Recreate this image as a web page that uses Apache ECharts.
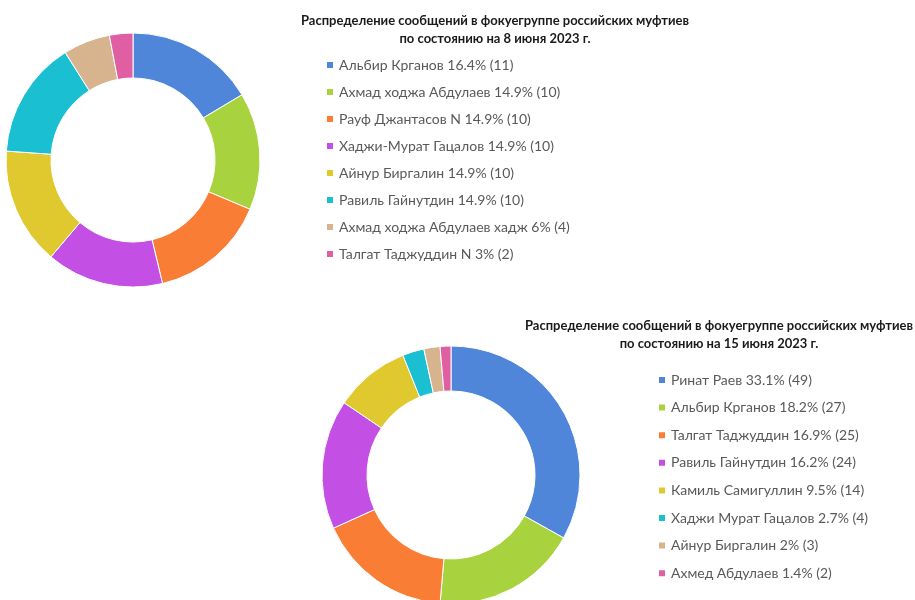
<!DOCTYPE html>
<html><head><meta charset="utf-8">
<script src="https://cdn.jsdelivr.net/npm/echarts@6/dist/echarts.min.js"></script>
<style>
html,body{margin:0;padding:0;background:#fff;width:915px;height:600px;overflow:hidden}
#c1{position:absolute;left:0;top:0;width:915px;height:300px}
#c2{position:absolute;left:0;top:300px;width:915px;height:300px}
</style></head>
<body>
<div id="c1"></div><div id="c2"></div>
<script>
const title1 = "Распределение сообщений в фокуегруппе российских муфтиев\nпо состоянию на 8 июня 2023 г.";
const names1 = ["Альбир Крганов","Ахмад ходжа Абдулаев","Рауф Джантасов N","Хаджи-Мурат Гацалов","Айнур Биргалин","Равиль Гайнутдин","Ахмад ходжа Абдулаев хадж","Талгат Таджуддин N"];
const values1 = [11,10,10,10,10,10,4,2];

const title2 = "Распределение сообщений в фокуегруппе российских муфтиев\nпо состоянию на 15 июня 2023 г.";
const names2 = ["Ринат Раев","Альбир Крганов","Талгат Таджуддин","Равиль Гайнутдин","Камиль Самигуллин","Хаджи Мурат Гацалов","Айнур Биргалин","Ахмед Абдулаев"];
const values2 = [49,27,25,24,14,4,3,2];

const colors = ["#4F86D9","#A9D33E","#FA7D35","#C34FE4","#DFC92F","#1ABFD2","#D7B48E","#E05FA2"];
const FONT = "Lato, 'Open Sans', sans-serif";

function build(el, title, names, values, cfg){
  const total = values.reduce((a,b)=>a+b,0);
  const map = {};
  names.forEach((n,i)=>map[n]=values[i]);
  const chart = echarts.init(el, null, {renderer:'canvas'});
  chart.setOption({
    animation:false,
    color: colors,
    title:{text:title, left:cfg.titleX, top:cfg.titleY, textAlign:'center', padding:0,
      textStyle:{fontFamily:FONT, fontSize:13, fontWeight:'bold', color:'#1a1a1a', lineHeight:18}},
    legend:{orient:'vertical', left:cfg.legX, top:cfg.legY, padding:0, icon:'rect', itemWidth:8, itemHeight:8,
      itemGap:cfg.gap, selectedMode:false,
      textStyle:{fontFamily:FONT, fontSize:14, color:'#595959'},
      formatter:function(n){ const v=map[n]; const p=parseFloat((v/total*100).toFixed(1)); return n+' '+p+'% ('+v+')'; }},
    series:[{type:'pie', center:cfg.center, radius:cfg.radius, startAngle:90, clockwise:true,
      label:{show:false}, labelLine:{show:false}, emphasis:{disabled:true},
      itemStyle:{borderColor:'#fff', borderWidth:1},
      data:names.map((n,i)=>({name:n, value:values[i]}))}]
  });
}
build(document.getElementById('c1'), title1, names1, values1,
  {titleX:495, titleY:12, legX:325, legY:58, gap:13, center:[133,160], radius:[82,127]});
build(document.getElementById('c2'), title2, names2, values2,
  {titleX:719, titleY:17, legX:657, legY:73, gap:13.6, center:[451,175], radius:[84,129]});
</script>
</body></html>
